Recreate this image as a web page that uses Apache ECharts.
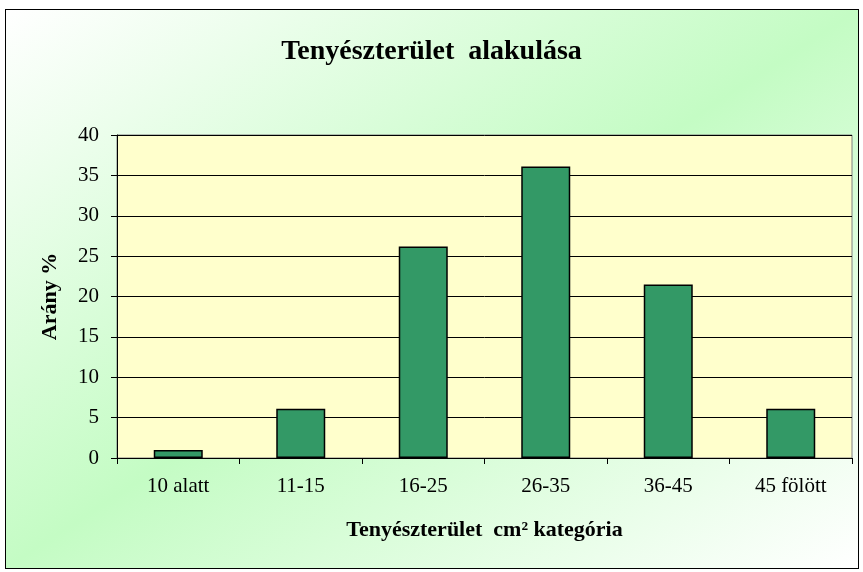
<!DOCTYPE html>
<html>
<head>
<meta charset="utf-8">
<script src="https://cdn.jsdelivr.net/npm/echarts@6/dist/echarts.min.js"></script>
<style>
  html, body { margin: 0; padding: 0; background: #fff; }
  .frame {
    position: absolute; left: 5px; top: 9px; width: 852px; height: 558px;
    border: 1px solid #000;
    background: linear-gradient(to bottom right, #ffffff 0%, #c4fcc4 50%, #ffffff 100%);
  }
  #chart { position: absolute; left: 0; top: 0; width: 863px; height: 572px; }
</style>
</head>
<body>
<div class="frame"></div>
<div id="chart"></div>
<script>
const categories = ['10 alatt', '11-15', '16-25', '26-35', '36-45', '45 fölött']
const values = [1.0, 6.1, 26.2, 36.1, 21.5, 6.1]

const chart = echarts.init(document.getElementById('chart'))
const serif = 'Liberation Serif, Times New Roman, serif'

chart.setOption({
  animation: false,
  backgroundColor: 'transparent',
  title: {
    text: 'Tenyészterület  alakulása',
    left: 'center',
    top: 33,
    textStyle: { fontFamily: serif, fontSize: 28, fontWeight: 'bold', color: '#000' }
  },
  grid: {
    left: 117, right: 11, top: 135, bottom: 114,
    show: true,
    backgroundColor: '#FFFFCC',
    borderColor: '#808080',
    borderWidth: 1
  },
  xAxis: {
    type: 'category',
    data: categories,
    name: 'Tenyészterület  cm² kategória',
    nameLocation: 'middle',
    nameGap: 61,
    nameTextStyle: { fontFamily: serif, fontSize: 22, fontWeight: 'bold', color: '#000' },
    axisLine: { lineStyle: { color: '#000', width: 1 } },
    axisTick: { show: true, length: 6, lineStyle: { color: '#000' } },
    axisLabel: { fontFamily: serif, fontSize: 21, color: '#000', margin: 18 }
  },
  yAxis: {
    type: 'value',
    min: 0, max: 40, interval: 5,
    name: 'Arány %',
    nameLocation: 'middle',
    nameGap: 56,
    nameRotate: 90,
    nameTextStyle: { fontFamily: serif, fontSize: 22, fontWeight: 'bold', color: '#000' },
    axisLine: { show: true, lineStyle: { color: '#000', width: 1 } },
    axisTick: { show: true, length: 6, lineStyle: { color: '#000' } },
    axisLabel: { fontFamily: serif, fontSize: 21, color: '#000', margin: 18 },
    splitLine: { show: true, lineStyle: { color: '#000', width: 1 } }
  },
  series: [{
    type: 'bar',
    data: values,
    barWidth: '40%',
    itemStyle: { color: '#339966', borderColor: '#000', borderWidth: 1.5 }
  }]
})
</script>
</body>
</html>
